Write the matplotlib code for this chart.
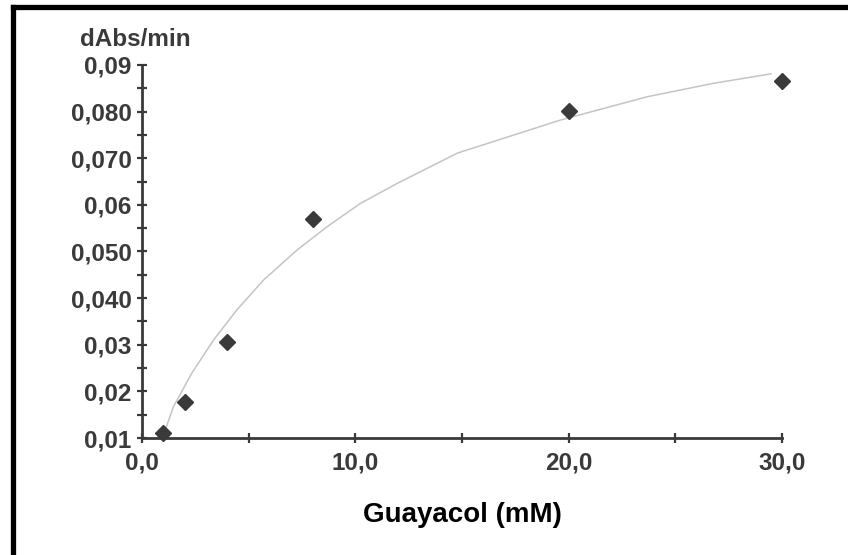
import matplotlib
matplotlib.use('Agg')
import matplotlib.pyplot as plt
from matplotlib.lines import Line2D
import numpy as np

plt.rcParams['font.family'] = ['Liberation Sans', 'DejaVu Sans']

# puntos medidos
guayacol = [1, 2, 4, 8, 20, 30]
velocidad = [0.0111, 0.0178, 0.0305, 0.0570, 0.0801, 0.0865]

# curva de ajuste
curva_x = [1.05, 1.47, 2.33, 3.35, 4.45, 5.70, 7.26, 8.67, 10.23, 11.96,
           14.78, 19.62, 23.69, 26.82, 29.48]
curva_y = [0.0112, 0.0167, 0.0239, 0.0310, 0.0375, 0.0439, 0.0503, 0.0553,
           0.0603, 0.0646, 0.0711, 0.0782, 0.0832, 0.0861, 0.0881]

yticks = [0.01, 0.02, 0.03, 0.04, 0.05, 0.06, 0.07, 0.08, 0.09]
ylabels = ['0,01', '0,02', '0,03', '0,040', '0,050', '0,06', '0,070', '0,080', '0,09']
xticks = [0, 10, 20, 30]
xlabels = ['0,0', '10,0', '20,0', '30,0']

gris = '#3a3a3a'

fig = plt.figure(figsize=(8.48, 5.55), dpi=100)
ax = fig.add_axes([0.1675, 0.2108, 0.7547, 0.6721])

ax.plot(curva_x, curva_y, color='#c4c4c4', linewidth=1.1, zorder=2)
ax.plot(guayacol, velocidad, linestyle='none', marker='D', markersize=8.5,
        color=gris, zorder=3, clip_on=False)

ax.set_xlim(0, 30)
ax.set_ylim(0.01, 0.09)

ax.set_xticks(xticks)
ax.set_xticklabels(xlabels)
ax.set_xticks([5, 15, 25], minor=True)
ax.set_yticks(yticks)
ax.set_yticklabels(ylabels)
ax.set_yticks(np.arange(0.015, 0.09, 0.01), minor=True)

for s in ['top', 'right']:
    ax.spines[s].set_visible(False)
for s in ['left', 'bottom']:
    ax.spines[s].set_color(gris)
    ax.spines[s].set_linewidth(2.0)

ax.tick_params(axis='both', which='both', direction='inout', color=gris,
               width=1.6, length=7)
ax.tick_params(axis='both', which='major', labelsize=17.5, labelcolor=gris)
ax.tick_params(axis='y', pad=4)
ax.tick_params(axis='x', pad=6)
for t in ax.get_xticklabels() + ax.get_yticklabels():
    t.set_fontweight('bold')

ax.set_xlabel('Guayacol (mM)', fontsize=20, fontweight='bold',
              color='black', labelpad=20)
fig.text(0.094, 0.928, 'dAbs/min', fontsize=17.5, fontweight='bold',
         color=gris, ha='left', va='center')

# marco superior e izquierdo
fig.add_artist(Line2D([0.0159, 1.0], [0.9865, 0.9865], color='black',
                      linewidth=3.8, transform=fig.transFigure,
                      solid_capstyle='projecting'))
fig.add_artist(Line2D([0.0159, 0.0159], [0.0, 0.9865], color='black',
                      linewidth=3.8, transform=fig.transFigure,
                      solid_capstyle='projecting'))

fig.savefig('out.png', dpi=100)
